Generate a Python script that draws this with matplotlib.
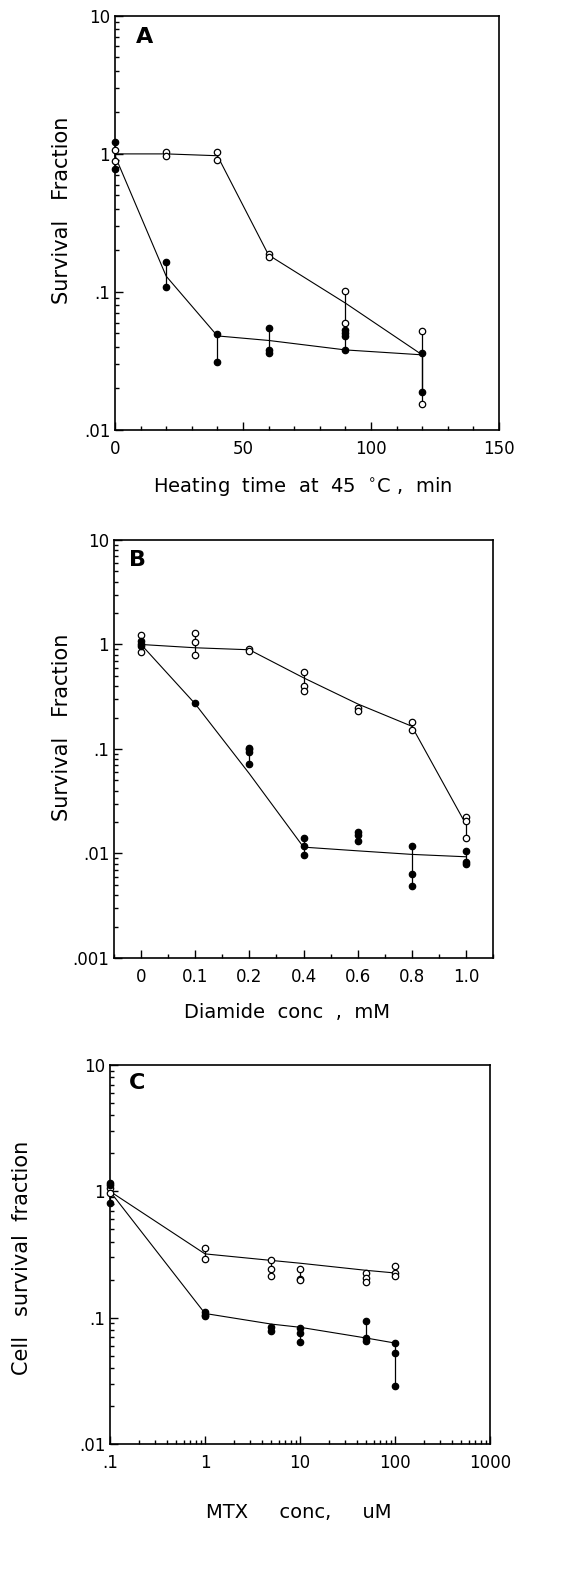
"""
Survival fraction curves, panels A (heat), B (diamide), C (MTX)
"""

import matplotlib
matplotlib.use("Agg")
import matplotlib.pyplot as plt
from matplotlib.ticker import FixedLocator, MultipleLocator, LogLocator, NullFormatter, AutoMinorLocator

# ---- panel A : heating time at 45 C ----
heat_time = [0, 20, 40, 60, 90, 120]
heat_open_reps = [[1.07, 0.89], [1.03, 0.97], [1.04, 0.90], [0.189, 0.178], [0.102, 0.060], [0.0517, 0.0153]]
heat_open_mean = [1.0, 1.0, 0.97, 0.185, 0.083, 0.035]
heat_fill_reps = [[1.21, 0.78], [0.165, 0.109], [0.0497, 0.031], [0.0546, 0.0377, 0.0358],
				  [0.053, 0.0506, 0.048, 0.0377], [0.0358, 0.0188]]
heat_fill_mean = [0.97, 0.13, 0.048, 0.0445, 0.038, 0.035]

# ---- panel B : diamide conc (evenly spaced categories) ----
diamide_labels = ["0", "0.1", "0.2", "0.4", "0.6", "0.8", "1.0"]
diam_open_reps = [[1.24, 1.0, 0.85], [1.29, 1.06, 0.80], [0.91, 0.865], [0.54, 0.40, 0.355],
				  [0.244, 0.233], [0.18, 0.153], [0.0221, 0.0203, 0.014]]
diam_open_mean = [1.0, 0.93, 0.89, 0.48, 0.27, 0.165, 0.019]
diam_fill_reps = [[1.07, 0.96], [0.275], [0.102, 0.1, 0.093, 0.072], [0.014, 0.0117, 0.0097],
				  [0.0159, 0.0151, 0.0133], [0.0119, 0.0063, 0.0049], [0.0105, 0.0082, 0.0080]]
diam_fill_mean = [1.0, 0.27, 0.058, 0.0115, 0.0106, 0.0098, 0.0093]

# ---- panel C : MTX conc ----
mtx_conc = [0.1, 1, 5, 10, 50, 100]
mtx_open_reps = [[1.06, 0.97], [0.356, 0.293], [0.284, 0.243, 0.215], [0.243, 0.204, 0.20],
				 [0.226, 0.206, 0.19], [0.255, 0.226, 0.215]]
mtx_open_mean = [1.0, 0.32, 0.284, 0.27, 0.237, 0.226]
mtx_fill_reps = [[1.16, 1.12, 0.81], [0.111, 0.106, 0.104], [0.085, 0.079], [0.083, 0.076, 0.064],
				 [0.095, 0.069, 0.065], [0.063, 0.053, 0.029]]
mtx_fill_mean = [1.0, 0.108, 0.089, 0.084, 0.069, 0.063]

plt.rcParams["font.family"] = ["DejaVu Sans"]


def draw_series(ax, xs, reps, means, filled):
	"""
	Range bars between replicates, replicate dots, and line through means
	"""
	for x, vals in zip(xs, reps):
		if len(vals) > 1:
			ax.vlines(x, min(vals), max(vals), color="black", lw=0.9, zorder=2, clip_on=False)
	ax.plot(xs, means, color="black", lw=0.8, zorder=1, clip_on=False)
	for x, vals in zip(xs, reps):
		ax.plot([x] * len(vals), vals, "o", ms=4.6, mec="black", mew=0.9,
				mfc="black" if filled else "white", zorder=3, clip_on=False)


def style_axes(ax, ylow, ylabels):
	"""
	Shared spine / tick look
	"""
	ax.set_yscale("log")
	for sp in ax.spines.values():
		sp.set_linewidth(1.2)
	ax.tick_params(which="both", direction="in", top=False, right=False, labelsize=12, width=1.0)
	ax.tick_params(which="major", length=6)
	ax.tick_params(which="minor", length=3)
	ax.tick_params(axis="x", pad=7)
	ticks = [ylow * 10 ** i for i in range(len(ylabels))]
	ax.set_ylim(ticks[0], ticks[-1])
	ax.yaxis.set_major_locator(FixedLocator(ticks))
	ax.set_yticklabels(ylabels)
	ax.yaxis.set_minor_locator(LogLocator(base=10, subs=range(2, 10)))
	ax.yaxis.set_minor_formatter(NullFormatter())


fig = plt.figure(figsize=(5.79, 15.72), dpi=100)

# panel A
ax_a = fig.add_axes([0.1986, 0.7265, 0.6632, 0.2634])
style_axes(ax_a, 0.01, [".01", ".1", "1", "10"])
draw_series(ax_a, heat_time, heat_open_reps, heat_open_mean, False)
draw_series(ax_a, heat_time, heat_fill_reps, heat_fill_mean, True)
ax_a.set_xlim(0, 150)
ax_a.set_xticks([0, 50, 100, 150])
ax_a.xaxis.set_minor_locator(MultipleLocator(10))
ax_a.text(0.078, 0.949, "A", transform=ax_a.transAxes, fontsize=16, fontweight="bold", ha="center", va="center")

# panel B
ax_b = fig.add_axes([0.1969, 0.3906, 0.6546, 0.2659])
style_axes(ax_b, 0.001, [".001", ".01", ".1", "1", "10"])
pos = list(range(len(diamide_labels)))
draw_series(ax_b, pos, diam_open_reps, diam_open_mean, False)
draw_series(ax_b, pos, diam_fill_reps, diam_fill_mean, True)
ax_b.set_xlim(-0.5, len(diamide_labels) - 0.5)
ax_b.set_xticks(pos)
ax_b.set_xticklabels(diamide_labels)
ax_b.xaxis.set_minor_locator(AutoMinorLocator(2))
ax_b.text(0.061, 0.952, "B", transform=ax_b.transAxes, fontsize=16, fontweight="bold", ha="center", va="center")

# panel C
ax_c = fig.add_axes([0.19, 0.0814, 0.6563, 0.2411])
style_axes(ax_c, 0.01, [".01", ".1", "1", "10"])
draw_series(ax_c, mtx_conc, mtx_open_reps, mtx_open_mean, False)
draw_series(ax_c, mtx_conc, mtx_fill_reps, mtx_fill_mean, True)
ax_c.set_xscale("log")
ax_c.set_xlim(0.1, 1000)
ax_c.xaxis.set_major_locator(FixedLocator([0.1, 1, 10, 100, 1000]))
ax_c.set_xticklabels([".1", "1", "10", "100", "1000"])
ax_c.xaxis.set_minor_locator(LogLocator(base=10, subs=range(2, 10)))
ax_c.xaxis.set_minor_formatter(NullFormatter())
ax_c.tick_params(which="both", direction="in", top=False, right=False)
ax_c.text(0.071, 0.953, "C", transform=ax_c.transAxes, fontsize=16, fontweight="bold", ha="center", va="center")

# axis titles, placed in figure pixels
W, H = 579, 1572
fig.text(303 / W, 1 - 487 / H, "Heating  time  at  45  $^{\\circ}$C ,  min", fontsize=14, ha="center", va="center")
fig.text(62 / W, 1 - 210 / H, "Survival   Fraction", fontsize=15, rotation=90, ha="center", va="center")
fig.text(287 / W, 1 - 1012 / H, "Diamide  conc  ,  mM", fontsize=14, ha="center", va="center")
fig.text(62 / W, 1 - 727 / H, "Survival   Fraction", fontsize=15, rotation=90, ha="center", va="center")
fig.text(22 / W, 1 - 1258 / H, "Cell   survival  fraction", fontsize=15, rotation=90, ha="center", va="center")
fig.text(299 / W, 1 - 1513 / H, "MTX     conc,     uM", fontsize=14, ha="center", va="center")

fig.savefig("out.png", dpi=100)
